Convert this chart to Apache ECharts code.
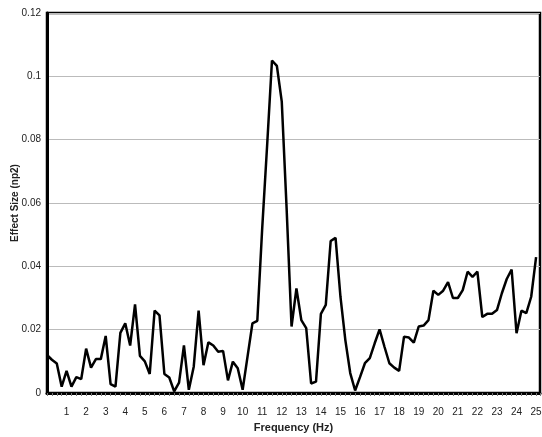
<!DOCTYPE html>
<html>
<head>
<meta charset="utf-8">
<script src="https://cdn.jsdelivr.net/npm/echarts@6/dist/echarts.min.js"></script>
<style>
html, body { margin: 0; padding: 0; background: #fff; }
#chart { width: 542px; height: 437px; }
</style>
</head>
<body>
<div id="chart"></div>
<script>
// frequency (Hz), one point every 0.25 Hz
var freqs = [
	0, 0.25, 0.5, 0.75, 1, 1.25, 1.5, 1.75, 2, 2.25, 2.5, 2.75,
	3, 3.25, 3.5, 3.75, 4, 4.25, 4.5, 4.75, 5, 5.25, 5.5, 5.75,
	6, 6.25, 6.5, 6.75, 7, 7.25, 7.5, 7.75, 8, 8.25, 8.5, 8.75,
	9, 9.25, 9.5, 9.75, 10, 10.25, 10.5, 10.75, 11, 11.25, 11.5, 11.75,
	12, 12.25, 12.5, 12.75, 13, 13.25, 13.5, 13.75, 14, 14.25, 14.5, 14.75,
	15, 15.25, 15.5, 15.75, 16, 16.25, 16.5, 16.75, 17, 17.25, 17.5, 17.75,
	18, 18.25, 18.5, 18.75, 19, 19.25, 19.5, 19.75, 20, 20.25, 20.5, 20.75,
	21, 21.25, 21.5, 21.75, 22, 22.25, 22.5, 22.75, 23, 23.25, 23.5, 23.75,
	24, 24.25, 24.5, 24.75, 25
];
// effect size (np2)
var effectSize = [
	0.012, 0.0105, 0.0093, 0.002, 0.007, 0.002, 0.005, 0.0044, 0.014, 0.008, 0.0107, 0.0107,
	0.018, 0.0028, 0.002, 0.019, 0.022, 0.015, 0.028, 0.0117, 0.010, 0.006, 0.026, 0.0245,
	0.006, 0.0049, 0.0005, 0.0033, 0.015, 0.001, 0.0083, 0.026, 0.0088, 0.016, 0.015, 0.013,
	0.0133, 0.004, 0.0099, 0.0078, 0.001, 0.0115, 0.022, 0.0228, 0.052, 0.078, 0.105, 0.1033,
	0.092, 0.058, 0.021, 0.033, 0.023, 0.0205, 0.003, 0.0036, 0.025, 0.0278, 0.048, 0.049,
	0.0304, 0.0167, 0.0063, 0.0008, 0.005, 0.0094, 0.011, 0.0157, 0.0201, 0.0146, 0.0094, 0.008,
	0.007, 0.0178, 0.0175, 0.0159, 0.021, 0.0213, 0.023, 0.0323, 0.031, 0.0323, 0.035, 0.030,
	0.030, 0.0325, 0.0383, 0.0367, 0.0383, 0.024, 0.025, 0.025, 0.0262, 0.0315, 0.036, 0.039,
	0.0189, 0.026, 0.0252, 0.0304, 0.0429
];

var lineData = [];
for (var i = 0; i < freqs.length; i++) {
	lineData.push([freqs[i], effectSize[i]]);
}

var chart = echarts.init(document.getElementById('chart'));
var fontFamily = '"Liberation Sans", Arial, sans-serif';

chart.setOption({
	animation: false,
	grid: {
		left: 47,
		right: 2,
		top: 13,
		bottom: 44,
		outerBoundsMode: 'none',
		containLabel: false,
		show: true,
		borderColor: '#000',
		borderWidth: 2.5
	},
	xAxis: {
		type: 'value',
		min: 0,
		max: 25.2,
		interval: 1,
		name: 'Frequency (Hz)',
		nameLocation: 'middle',
		nameGap: 29,
		nameMoveOverlap: false,
		nameTextStyle: { fontFamily: fontFamily, fontSize: 11, fontWeight: 'bold', color: '#222' },
		axisLine: { lineStyle: { color: '#000', width: 3 } },
		axisTick: { show: true, length: 3, lineStyle: { color: '#777' } },
		minorTick: { show: true, splitNumber: 4, length: 3, lineStyle: { color: '#777' } },
		splitLine: { show: false },
		axisLabel: {
			margin: 14,
			fontFamily: fontFamily,
			fontSize: 10,
			color: '#222',
			showMaxLabel: false,
			formatter: function (v) {
				if (v === 0 || v % 1 !== 0) return '';
				return String(v);
			}
		}
	},
	yAxis: {
		type: 'value',
		min: 0,
		max: 0.12,
		interval: 0.02,
		name: 'Effect Size (np2)',
		nameLocation: 'middle',
		nameGap: 27,
		nameMoveOverlap: false,
		nameTextStyle: { fontFamily: fontFamily, fontSize: 10, fontWeight: 'bold', color: '#222' },
		axisLine: { lineStyle: { color: '#000', width: 3 } },
		axisTick: { show: false },
		splitLine: { lineStyle: { color: '#bbb', width: 1 } },
		axisLabel: {
			margin: 6,
			fontFamily: fontFamily,
			fontSize: 10,
			color: '#222',
			formatter: function (v) {
				return String(Math.round(v * 100) / 100);
			}
		}
	},
	series: [{
		type: 'line',
		data: lineData,
		showSymbol: false,
		lineStyle: { color: '#000', width: 2.5 },
		z: 3
	}]
});
</script>
</body>
</html>
